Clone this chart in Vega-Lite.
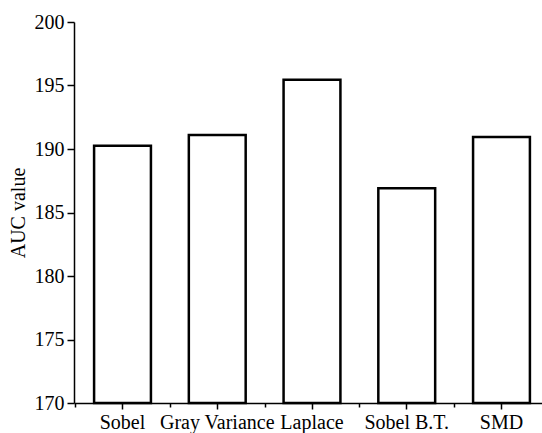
{
  "$schema": "https://vega.github.io/schema/vega-lite/v6.json",
  "width": 476,
  "height": 381,
  "autosize": "none",
  "padding": {"left": 74, "top": 22, "right": 0, "bottom": 30},
  "background": "white",
  "config": {
    "view": {"stroke": null},
    "font": "Liberation Serif",
    "axis": {
      "domainColor": "black",
      "domainWidth": 1.5,
      "tickColor": "black",
      "tickWidth": 1.5,
      "labelColor": "black",
      "titleColor": "black",
      "labelFont": "Liberation Serif",
      "titleFont": "Liberation Serif",
      "labelFontSize": 20,
      "titleFontSize": 20,
      "titleFontWeight": "normal",
      "grid": false
    }
  },
  "data": {
    "values": [
      {"method": "Sobel", "auc": 190.25},
      {"method": "Gray Variance", "auc": 191.1},
      {"method": "Laplace", "auc": 195.45},
      {"method": "Sobel B.T.", "auc": 186.9},
      {"method": "SMD", "auc": 190.95}
    ]
  },
  "layer": [
    {
      "mark": {"type": "bar", "fill": "white", "stroke": "black", "strokeWidth": 2.5},
      "encoding": {
        "x": {
          "field": "method",
          "type": "nominal",
          "sort": null,
          "scale": {"paddingInner": 0.4, "paddingOuter": 0.212},
          "axis": {
            "orient": "bottom",
            "title": null,
            "labelAngle": 0,
            "labelOverlap": false,
            "tickSize": 6,
            "labelPadding": 3,
            "zindex": 1
          }
        },
        "y": {
          "field": "auc",
          "type": "quantitative",
          "scale": {"domain": [170, 200], "zero": false, "nice": false},
          "axis": {
            "title": "AUC value",
            "values": [170, 172.5, 175, 177.5, 180, 182.5, 185, 187.5, 190, 192.5, 195, 197.5, 200],
            "labelExpr": "datum.value % 5 === 0 ? datum.label : ''",
            "tickSize": {"condition": {"test": "datum.value % 5 === 0", "value": 7}, "value": 4},
            "labelPadding": 3,
            "titlePadding": 6,
            "zindex": 1
          }
        },
        "y2": {"datum": 170}
      }
    },
    {
      "mark": {"type": "bar", "opacity": 0},
      "encoding": {
        "x": {
          "field": "method",
          "type": "nominal",
          "sort": null,
          "axis": {
            "orient": "bottom",
            "title": null,
            "labels": false,
            "domain": false,
            "bandPosition": 0,
            "tickOffset": -19,
            "tickSize": 4
          }
        },
        "y": {"field": "auc", "type": "quantitative"},
        "y2": {"datum": 170}
      }
    }
  ],
  "resolve": {"axis": {"x": "independent"}}
}
